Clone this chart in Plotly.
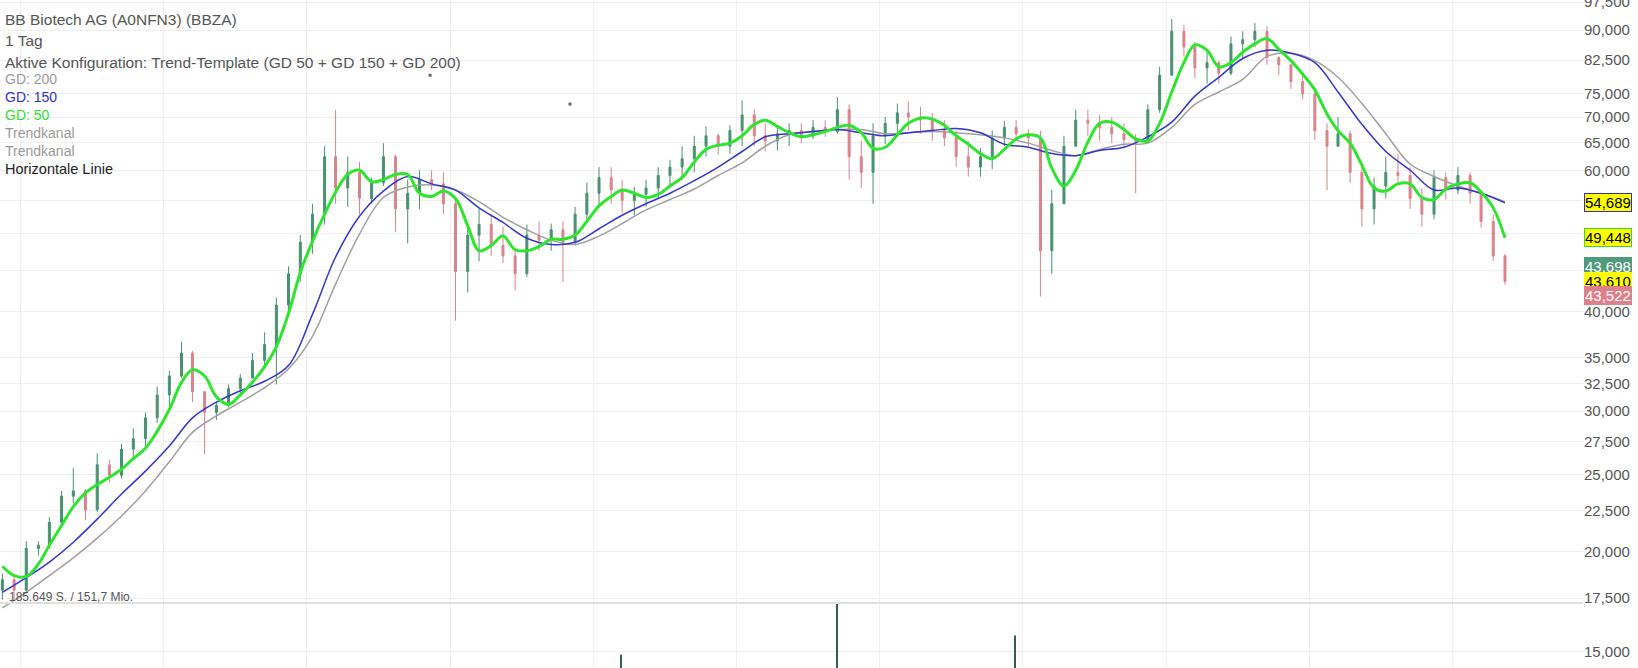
import math
import pandas as pd
import plotly.graph_objects as go

# ---------------- data ----------------
# monthly candles, Nov 2012 .. May 2023 (EUR)
months = pd.date_range("2012-11-01", periods=127, freq="MS") + pd.Timedelta(days=14)

open_ = [17.91, 18.46, 17.91, 20.20, 20.39, 21.78, 23.48, 23.84, 22.58, 25.70,
         24.94, 26.89, 27.71, 29.43, 31.44, 33.20, 35.47, 31.73, 29.88, 30.51,
         32.02, 33.00, 34.73, 36.34, 40.74, 44.59, 48.81, 52.93, 62.47, 57.08,
         59.71, 55.38, 57.94, 62.47, 53.74, 56.22, 58.47, 57.76, 54.55, 44.86,
         49.84, 51.37, 48.36, 46.93, 44.59, 49.84, 49.10, 50.60, 48.81, 52.93,
         56.22, 58.82, 56.74, 55.05, 56.05, 57.08, 59.17, 60.62, 62.10, 64.38,
         66.35, 64.38, 67.35, 70.47, 66.35, 65.35, 66.74, 67.35, 66.35, 67.97,
         67.15, 71.53, 62.47, 59.71, 66.35, 68.78, 70.88, 70.05, 69.41, 67.35,
         65.95, 62.47, 60.62, 62.47, 65.95, 67.97, 66.74, 65.95, 47.64, 54.55,
         64.38, 69.41, 68.78, 67.97, 66.74, 65.55, 65.35, 71.53, 79.00, 89.66,
         85.70, 80.68, 81.91, 79.48, 86.48, 87.51, 89.66, 83.15, 81.42, 77.57,
         74.84, 67.35, 64.38, 66.74, 59.71, 53.74, 57.41, 59.71, 59.17, 55.38,
         52.93, 58.82, 56.74, 59.17, 56.22, 51.84, 46.93]

high = [18.79, 18.74, 20.62, 20.62, 22.11, 23.84, 25.46, 23.98, 26.57, 26.09,
        27.29, 28.56, 29.88, 32.21, 33.70, 36.66, 35.69, 31.73, 30.79, 32.40,
        33.39, 35.47, 37.66, 41.61, 45.54, 49.84, 54.55, 64.38, 71.53, 62.47,
        61.53, 58.82, 64.96, 62.83, 58.47, 60.07, 60.07, 59.71, 55.38, 51.52,
        53.74, 52.93, 51.05, 47.64, 51.37, 51.84, 51.52, 51.84, 54.05, 57.94,
        60.62, 60.62, 58.47, 57.23, 58.47, 60.62, 61.91, 64.38, 66.35, 68.17,
        66.74, 68.38, 73.49, 71.53, 68.78, 68.17, 68.78, 68.78, 69.41, 69.41,
        74.17, 72.62, 65.35, 68.78, 70.05, 72.82, 73.27, 72.18, 70.88, 69.41,
        67.35, 65.35, 63.99, 67.35, 69.21, 69.41, 67.56, 67.35, 56.74, 66.35,
        71.53, 71.53, 70.47, 70.05, 68.78, 66.74, 72.62, 80.93, 92.93, 91.29,
        87.00, 84.91, 82.39, 88.31, 89.66, 91.85, 91.01, 83.41, 81.42, 79.00,
        75.74, 68.78, 70.05, 67.35, 60.62, 58.82, 62.47, 63.03, 60.62, 57.08,
        60.07, 59.71, 60.62, 59.71, 56.74, 52.93, 47.20]

low = [17.43, 17.38, 17.74, 19.78, 20.20, 21.45, 22.99, 21.91, 22.45, 24.42,
       24.71, 26.09, 27.04, 28.99, 30.15, 33.00, 30.79, 26.49, 29.25, 30.33,
       31.26, 33.00, 34.00, 32.40, 39.77, 43.53, 47.21, 51.37, 54.55, 54.05,
       52.93, 54.55, 57.41, 50.30, 48.66, 53.74, 56.74, 52.93, 38.94, 42.24,
       46.23, 46.93, 45.95, 42.49, 44.19, 47.64, 47.64, 43.53, 48.36, 52.15,
       54.05, 54.55, 53.10, 52.77, 54.05, 55.38, 57.08, 58.47, 59.71, 62.47,
       62.83, 63.03, 64.38, 64.38, 63.41, 63.61, 64.38, 64.96, 65.75, 66.15,
       66.74, 58.47, 57.08, 54.55, 64.76, 66.35, 67.35, 66.74, 65.35, 64.38,
       60.62, 58.98, 58.98, 60.26, 64.38, 65.55, 64.38, 41.73, 44.59, 54.55,
       64.38, 66.35, 65.35, 64.96, 64.38, 56.22, 64.96, 70.88, 79.00, 83.41,
       78.29, 77.13, 77.13, 79.00, 83.15, 85.70, 81.42, 79.00, 75.97, 73.72,
       65.55, 56.74, 64.38, 57.94, 51.05, 51.37, 55.38, 57.94, 53.74, 51.05,
       52.15, 55.21, 56.05, 54.55, 50.90, 46.23, 43.20]

close = [18.46, 17.91, 20.20, 20.39, 21.78, 23.48, 23.84, 22.58, 25.70, 24.94,
         26.89, 27.71, 29.43, 31.44, 33.20, 35.47, 31.73, 29.88, 30.51, 32.02,
         33.00, 34.73, 36.34, 40.74, 44.59, 48.81, 52.93, 62.47, 57.08, 59.71,
         55.38, 57.94, 62.47, 53.74, 56.22, 58.47, 57.76, 54.55, 44.86, 49.84,
         51.37, 48.36, 46.93, 44.59, 49.84, 49.10, 50.60, 48.81, 52.93, 56.22,
         58.82, 56.74, 55.05, 56.05, 57.08, 59.17, 60.62, 62.10, 64.38, 66.35,
         64.38, 67.35, 70.47, 66.35, 65.35, 66.74, 67.35, 66.35, 67.97, 67.15,
         71.53, 62.47, 59.71, 66.35, 68.78, 70.88, 70.05, 69.41, 67.35, 65.95,
         62.47, 60.62, 62.47, 65.95, 67.97, 66.74, 65.95, 47.64, 54.55, 64.38,
         69.41, 68.78, 67.97, 66.74, 65.55, 65.35, 71.53, 79.00, 89.66, 85.70,
         80.68, 81.91, 79.48, 86.48, 87.51, 89.66, 83.15, 81.42, 77.57, 74.84,
         67.35, 64.38, 66.74, 59.71, 53.74, 57.41, 59.71, 59.17, 55.38, 52.93,
         58.82, 56.74, 59.17, 56.22, 51.84, 46.93, 43.61]

# moving averages (GD 50 monthly, GD 150 / GD 200 every second month)
gd50 = [19.19, 18.68, 18.63, 19.31, 20.39, 21.58, 22.78, 23.70, 24.28, 24.79,
        25.39, 26.16, 26.96, 28.30, 30.15, 32.60, 33.80, 33.20, 31.26, 30.60,
        31.44, 32.60, 34.11, 36.12, 39.77, 44.73, 48.95, 52.93, 56.40, 59.35,
        60.07, 58.11, 58.47, 59.35, 59.35, 56.22, 55.71, 56.57, 55.38, 51.21,
        47.64, 48.36, 49.69, 47.77, 47.64, 48.22, 49.23, 49.23, 49.84, 51.84,
        54.22, 55.71, 56.74, 56.22, 55.54, 56.05, 57.41, 58.82, 61.53, 63.80,
        64.56, 64.96, 66.35, 68.57, 69.41, 68.17, 66.94, 66.15, 66.53, 67.15,
        67.97, 68.38, 66.94, 63.99, 64.19, 66.53, 68.78, 69.84, 69.62, 68.38,
        66.35, 64.76, 63.03, 62.10, 63.80, 65.75, 66.53, 65.95, 60.44, 57.41,
        60.07, 65.15, 68.78, 68.99, 67.56, 65.75, 65.35, 68.78, 75.28, 81.91,
        86.22, 84.91, 80.93, 81.91, 84.42, 86.48, 87.78, 85.17, 82.39, 79.24,
        75.74, 70.66, 67.35, 64.96, 60.97, 57.08, 56.57, 57.76, 57.76, 55.54,
        55.21, 56.91, 57.76, 57.94, 56.40, 53.90, 49.45]

gd150 = [17.80, 18.57, 19.42, 20.56, 21.98, 23.63, 25.24, 27.13, 29.43, 30.79,
         31.82, 32.70, 34.21, 39.65, 46.78, 52.61, 56.57, 58.98, 57.76, 56.74,
         53.90, 51.68, 49.39, 48.51, 48.81, 50.75, 52.77, 54.55, 56.22, 58.29,
         60.62, 63.41, 66.15, 66.74, 67.15, 67.56, 66.94, 66.35, 66.94, 67.35,
         67.77, 66.94, 64.76, 64.19, 63.03, 62.66, 63.61, 64.19, 66.15, 69.00,
         74.39, 78.53, 82.90, 84.91, 84.17, 81.91, 75.28, 68.57, 63.41, 60.07,
         56.74, 57.08, 56.22, 54.69]

gd200 = [17.02, 17.80, 18.68, 19.66, 20.81, 22.18, 23.84, 25.93, 28.22, 29.60,
         30.79, 32.11, 33.90, 37.23, 43.27, 49.99, 55.54, 57.23, 57.59, 56.74,
         54.88, 52.45, 50.60, 49.10, 48.51, 49.69, 51.52, 53.58, 55.21, 56.91,
         59.17, 61.35, 64.38, 66.53, 67.15, 67.56, 67.56, 66.74, 66.94, 67.15,
         66.94, 66.53, 65.95, 64.96, 63.61, 62.66, 63.80, 64.76, 64.96, 67.97,
         72.62, 75.28, 78.05, 83.41, 84.17, 82.39, 78.53, 72.82, 66.74, 61.16,
         59.00, 57.41, 56.22, 54.88]

# the few visible volume spikes (thousand shares)
vol_dates = ["2017-03-12", "2018-09-14", "2019-12-12"]
vol_values = [41, 250, 100]

# horizontal support line
support_level = 41.75

# small trend-channel anchor marks
anchor_dates = ["2015-11-11", "2016-11-02"]
anchor_values = [79.0, 72.7]

y_ticks = [15, 17.5, 20, 22.5, 25, 27.5, 30, 32.5, 35, 40, 45, 50, 55,
           60, 65, 70, 75, 82.5, 90, 97.5]
y_tick_text = ["15,000", "17,500", "20,000", "22,500", "25,000", "27,500",
               "30,000", "32,500", "35,000", "40,000", "", "", "",
               "60,000", "65,000", "70,000", "75,000", "82,500", "90,000",
               "97,500"]

# right-hand price markers: (value, text, background, border, text colour, shift)
price_marks = [
    (54.689, "54,689", "#ffff00", "#3030c0", "#000000", 0),
    (49.448, "49,448", "#ffff00", "#30e030", "#000000", 0),
    (43.698, "43,698", "#4f9a7c", "#4f9a7c", "#ffffff", 14),
    (43.610, "43,610", "#ffff00", "#ffff00", "#000000", 0),
    (43.522, "43,522", "#e0808a", "#e0808a", "#ffffff", -13),
]

legend_lines = [
    ("BB Biotech AG (A0NFN3) (BBZA)", "#555555", 15.5, 19),
    ("1 Tag", "#555555", 15.5, 40),
    ("Aktive Konfiguration: Trend-Template (GD 50 + GD 150 + GD 200)", "#555555", 15.5, 62),
    ("GD: 200", "#9a9a9a", 14, 79),
    ("GD: 150", "#2f2fd8", 14, 97),
    ("GD: 50", "#2ee02e", 14, 115),
    ("Trendkanal", "#9a9a9a", 14, 133),
    ("Trendkanal", "#9a9a9a", 14, 151),
    ("Horizontale Linie", "#222222", 14.5, 169),
]

# ---------------- figure ----------------
W, H = 1638, 668
FONT = "Liberation Sans, Arial, sans-serif"
UP, DOWN = "#4a9072", "#d9848d"

fig = go.Figure()

fig.add_trace(go.Candlestick(
    x=months, open=open_, high=high, low=low, close=close,
    increasing=dict(line=dict(color=UP, width=1), fillcolor=UP),
    decreasing=dict(line=dict(color=DOWN, width=1), fillcolor=DOWN),
    whiskerwidth=0, showlegend=False, name="BBZA"))

fig.add_trace(go.Scatter(x=months[::2], y=gd200, mode="lines",
                         line=dict(color="#a0a0a0", width=1.5, shape="spline"),
                         showlegend=False, name="GD 200"))
fig.add_trace(go.Scatter(x=months[::2], y=gd150, mode="lines",
                         line=dict(color="#3535d0", width=1.5, shape="spline"),
                         showlegend=False, name="GD 150"))
fig.add_trace(go.Scatter(x=months, y=gd50, mode="lines",
                         line=dict(color="#2ee52e", width=3, shape="spline"),
                         showlegend=False, name="GD 50"))

fig.add_trace(go.Scatter(x=anchor_dates, y=anchor_values, mode="markers",
                         marker=dict(symbol="square", size=3, color="#666666"),
                         showlegend=False, hoverinfo="skip"))

fig.add_trace(go.Bar(x=vol_dates, y=vol_values, yaxis="y2",
                     marker=dict(color="#355e4e", line=dict(width=0)),
                     width=2.6 * 86400000, showlegend=False, name="Volumen"))

vol_top = (H - 603) / H

fig.update_layout(
    width=W, height=H,
    margin=dict(l=0, r=55, t=0, b=0, autoexpand=False),
    paper_bgcolor="white", plot_bgcolor="rgba(0,0,0,0)",
    separators=",.",
    showlegend=False,
    boxgap=0.74,
    font=dict(family=FONT, color="#555555"),
    xaxis=dict(type="date", range=["2012-11-09", "2023-11-30"],
               showticklabels=False, showgrid=True, gridcolor="#efefef",
               gridwidth=1, dtick="M12", tick0="2013-01-01", automargin=False,
               rangeslider=dict(visible=False), zeroline=False, showline=False,
               ticks=""),
    yaxis=dict(type="log", side="right", automargin=False,
               range=[math.log10(14.31), math.log10(98.13)],
               tickmode="array", tickvals=y_ticks, ticktext=y_tick_text,
               ticklabeloverflow="allow",
               tickfont=dict(size=15, color="#555555", family=FONT),
               showgrid=True, gridcolor="#efefef", gridwidth=1,
               zeroline=False, showline=False, ticks=""),
    yaxis2=dict(domain=[0, vol_top], range=[0, 200], anchor="x",
                automargin=False,
                showticklabels=False, showgrid=False, zeroline=False,
                showline=False, ticks=""),
)

shapes = [
    dict(type="line", xref="paper", x0=0, x1=1, yref="paper",
         y0=vol_top, y1=vol_top, line=dict(color="#e0e0e0", width=2)),
    dict(type="line", xref="paper", x0=0, x1=1, yref="y",
         y0=math.log10(support_level), y1=math.log10(support_level),
         line=dict(color="#000000", width=3)),
]
fig.update_layout(shapes=shapes)

annotations = []
for text, color, size, ypx in legend_lines:
    annotations.append(dict(
        text=text, xref="paper", x=0, xanchor="left", xshift=3,
        yref="paper", y=1 - ypx / H, yanchor="middle",
        showarrow=False, font=dict(size=size, color=color, family=FONT)))

annotations.append(dict(
    text="185.649 S. / 151,7 Mio.", xref="paper", x=0, xanchor="left", xshift=7,
    yref="paper", y=1 - 597 / H, yanchor="middle", showarrow=False,
    font=dict(size=12, color="#555555", family=FONT)))

for val, text, bg, border, fg, shift in price_marks:
    annotations.append(dict(
        text=text, xref="paper", x=1, xanchor="left", xshift=1,
        yref="y", y=math.log10(val), yanchor="middle", yshift=shift,
        showarrow=False, bgcolor=bg, bordercolor=border, borderwidth=1,
        borderpad=0, font=dict(size=15, color=fg, family=FONT)))

fig.update_layout(annotations=annotations)

fig.write_html("out.html", config={"displayModeBar": False},
               post_script="document.body.style.margin='0';")
